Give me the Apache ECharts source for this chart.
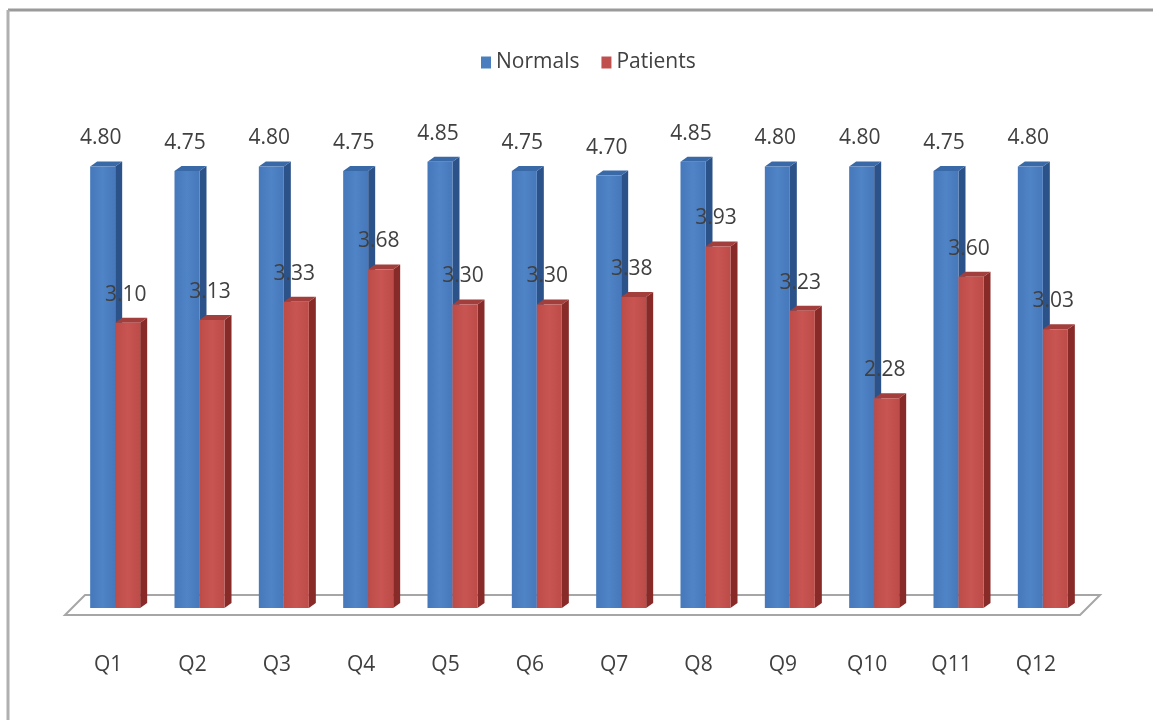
<!DOCTYPE html>
<html>
<head>
<meta charset="utf-8">
<script src="https://cdn.jsdelivr.net/npm/echarts@6/dist/echarts.min.js"></script>
<style>
html,body{margin:0;padding:0;background:#fff;}
#chart{width:1153px;height:720px;}
</style>
</head>
<body>
<div id="chart"></div>
<script>
const categories = ['Q1','Q2','Q3','Q4','Q5','Q6','Q7','Q8','Q9','Q10','Q11','Q12'];
const normals = [4.80,4.75,4.80,4.75,4.85,4.75,4.70,4.85,4.80,4.80,4.75,4.80];
const patients = [3.10,3.13,3.33,3.68,3.30,3.30,3.38,3.93,3.23,2.28,3.60,3.03];

const FONT = '"Open Sans", "Noto Sans", sans-serif';
const BAR_W = 25, DX = 7, DY = 5;

function make3D(colors, side) {
  return function (params, api) {
    const idx = api.value(0), val = api.value(1);
    const top = api.coord([idx, val]);
    const base = api.coord([idx, 0]);
    const cx = top[0];
    const l = side === 'left' ? cx - BAR_W : cx;
    const r = l + BAR_W;
    const ty = top[1], by = base[1];
    return {
      type: 'group',
      children: [
        { type: 'polygon', shape: { points: [[r, ty], [r + DX, ty - DY], [r + DX, by - DY], [r, by]] },
          style: { fill: colors.side } },
        { type: 'polygon', shape: { points: [[l, ty], [l + DX, ty - DY], [r + DX, ty - DY], [r, ty]] },
          style: { fill: colors.top } },
        { type: 'rect', shape: { x: l, y: ty, width: BAR_W, height: by - ty },
          style: { fill: new echarts.graphic.LinearGradient(0, 0, 1, 0, [
            { offset: 0, color: colors.front1 }, { offset: 0.5, color: colors.front2 }, { offset: 1, color: colors.front1 }]) } },
        { type: 'text', z2: 10,
          style: { text: val.toFixed(2), x: l + BAR_W / 2 - 2, y: ty - 28, align: 'center', verticalAlign: 'middle',
                   fill: '#404040', font: '21px ' + FONT } }
      ]
    };
  };
}

const blue = { front1: '#4678bb', front2: '#4f84c6', side: '#2c5389', top: '#3a69a8' };
const red = { front1: '#bd4b48', front2: '#c85552', side: '#872a28', top: '#a23e3b' };

const chart = echarts.init(document.getElementById('chart'));
chart.setOption({
  animation: false,
  backgroundColor: '#fff',
  grid: { left: 73, right: 68, top: 148, bottom: 112 },
  legend: {
    top: 47, left: 476, itemWidth: 10, itemHeight: 12, itemGap: 22,
    icon: 'rect',
    textStyle: { color: '#404040', fontSize: 21, fontFamily: FONT },
    data: ['Normals', 'Patients']
  },
  xAxis: {
    type: 'category', data: categories,
    axisLine: { show: false }, axisTick: { show: false }, splitLine: { show: false },
    axisLabel: { color: '#404040', fontSize: 21, fontFamily: FONT, margin: 47, padding: [0, 14, 0, 0] }
  },
  yAxis: { type: 'value', min: 0, max: 5, show: false },
  graphic: [
    { type: 'polygon', z: 0, shape: { points: [[65, 615], [1080, 615], [1100, 595], [85, 595]] },
      style: { fill: '#fff', stroke: '#a6a6a6', lineWidth: 2 } },
    { type: 'line', shape: { x1: 8, y1: 10, x2: 1153, y2: 10 }, style: { stroke: '#9a9a9a', lineWidth: 3 } },
    { type: 'line', shape: { x1: 8, y1: 10, x2: 8, y2: 720 }, style: { stroke: '#b0b0b0', lineWidth: 3 } }
  ],
  series: [
    { name: 'Normals', type: 'custom', itemStyle: { color: '#4a7ebf' },
      data: normals.map((v, i) => [i, v]), renderItem: make3D(blue, 'left'), z: 2 },
    { name: 'Patients', type: 'custom', itemStyle: { color: '#c0504d' },
      data: patients.map((v, i) => [i, v]), renderItem: make3D(red, 'right'), z: 3 }
  ]
});
</script>
</body>
</html>
